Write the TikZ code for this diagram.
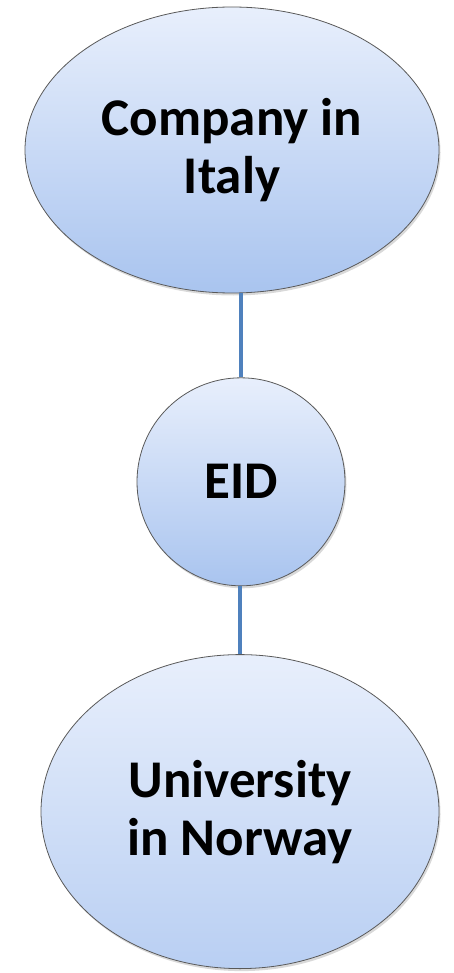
\documentclass[tikz,border=0pt]{standalone}
\usepackage{fontspec}
\setmainfont{Carlito}
\usetikzlibrary{shapes}
\usetikzlibrary{positioning}
\usetikzlibrary{shadows}
\definecolor{paleblue}{HTML}{E8EFFC}
\definecolor{midblue}{HTML}{A9C4EF}
\definecolor{linkblue}{HTML}{4F81BD}
\tikzstyle{entity} = [ellipse, draw=black!65, line width=0.8pt, inner sep=0pt,
top color=paleblue, bottom color=midblue, align=center,
drop shadow={opacity=0.3, shadow xshift=1.5pt, shadow yshift=-2.5pt},
font=\fontsize{53}{58}\selectfont\bfseries]
\tikzstyle{link} = [draw=linkblue, line width=4.5pt]
\newcommand{\linkup}[2]{ %
  % Vertical line from the bottom of #1 to the top of #2.
  \path (#2.north) edge [link] (#2.north |- #1.south) ;%
}

\begin{document}
\begin{tikzpicture}[x=1pt, y=-1pt]
  \useasboundingbox (0,0) rectangle (454,973);
  \node[entity, minimum width=414pt, minimum height=286pt] (company) at (232,150) {Company in\\Italy};
  \node[entity, circle, minimum size=208pt, below=84pt of company, xshift=9pt] (eid) {EID};
  \node[entity, minimum width=398pt, minimum height=314pt, below=68pt of eid, xshift=-1pt,
        bottom color=midblue!75!paleblue] (univ) {University\\in Norway};

  \linkup {company} {eid}
  \linkup {eid} {univ}
\end{tikzpicture}
\end{document}
